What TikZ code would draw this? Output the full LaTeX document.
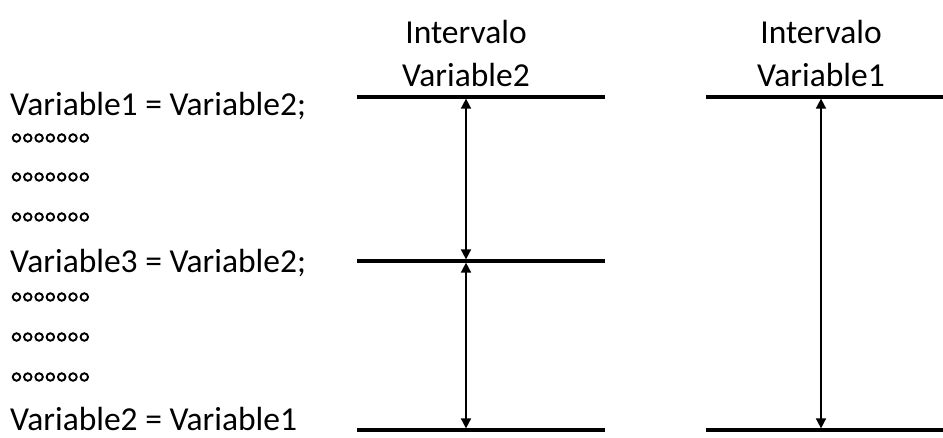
\documentclass[tikz,border=0pt]{standalone}
\usepackage{fontspec}
\setmainfont{Carlito}
\usetikzlibrary{arrows.meta}
\tikzset{
  codeline/.style={anchor=base west, inner sep=0pt, font=\fontsize{33.5}{40}\selectfont},
  dot/.style={circle, draw, line width=1.9pt, minimum size=7.5pt, inner sep=0pt},
  header/.style={anchor=base, inner sep=0pt, font=\fontsize{33.5}{40}\selectfont},
  level/.style={line width=3.2pt},
  span/.style={line width=1.6pt, {Triangle[length=10pt,width=10pt]}-{Triangle[length=10pt,width=10pt]}, shorten <=1.6pt, shorten >=1.6pt}
}
\begin{document}
\begin{tikzpicture}[x=1pt,y=-1pt]
\useasboundingbox (0,0) rectangle (943,437);

% code listing on the left
\node[codeline] (l1) at (10,115) {Variable1 = Variable2;};
\node[codeline] (l2) at (10,272) {Variable3 = Variable2;};
\node[codeline] (l3) at (10,430) {Variable2 = Variable1};

% rows of elision circles between the statements
\foreach \row/\y in {1/138,2/177,3/217,4/297,5/337,6/377}
  \foreach \k in {0,...,6}
    \node[dot] (c\row-\k) at ({16.5+11.3*\k},\y) {};

% column headers
\node[header] (h2a) at (466,43) {Intervalo};
\node[header] (h2b) at (466,86) {Variable2};
\node[header] (h1a) at (821,43) {Intervalo};
\node[header] (h1b) at (821,86) {Variable1};

% levels of the Variable2 interval
\coordinate (a2top) at (466,97);
\coordinate (a2mid) at (466,261);
\coordinate (a2bot) at (466,430);
\draw[level] (357,97) -- (a2top) -- (605,97);
\draw[level] (357,261) -- (a2mid) -- (605,261);
\draw[level] (357,430) -- (a2bot) -- (605,430);
\draw[span] (a2top) -- (a2mid);
\draw[span] (a2mid) -- (a2bot);

% levels of the Variable1 interval
\coordinate (a1top) at (821,97);
\coordinate (a1bot) at (821,430);
\draw[level] (706,97) -- (a1top) -- (943,97);
\draw[level] (706,430) -- (a1bot) -- (943,430);
\draw[span] (a1top) -- (a1bot);
\end{tikzpicture}
\end{document}
